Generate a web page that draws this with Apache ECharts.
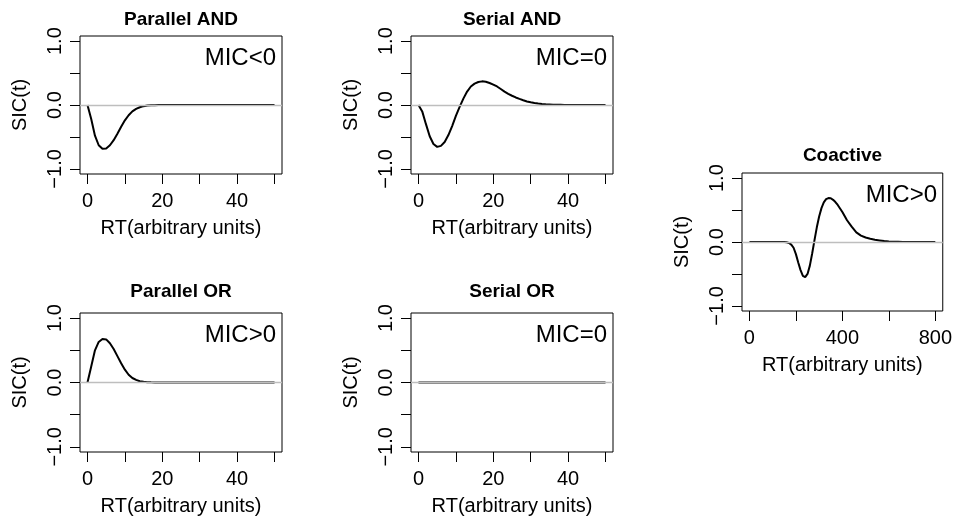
<!DOCTYPE html>
<html>
<head>
<meta charset="utf-8">
<script src="https://cdn.jsdelivr.net/npm/echarts@6/dist/echarts.min.js"></script>
<style>html,body{margin:0;padding:0;background:#fff}#main{width:955px;height:522px}</style>
</head>
<body>
<div id="main"></div>
<script>
var chartDom = document.getElementById('main');
var myChart = echarts.init(chartDom);
var option;

// RT (arbitrary units) for the four 0-50 panels
var rt = [0, 1, 2, 3, 4, 5, 6, 7, 8, 9, 10, 11, 12, 13, 14, 15, 16, 17, 18, 19, 20,
  21, 22, 23, 24, 25, 26, 27, 28, 29, 30, 31, 32, 33, 34, 35, 36, 37, 38, 39, 40,
  41, 42, 43, 44, 45, 46, 47, 48, 49, 50];

var parallelAnd = [0, -0.22, -0.48, -0.63, -0.685, -0.68, -0.63, -0.55, -0.45, -0.34, -0.24,
  -0.16, -0.10, -0.06, -0.035, -0.018, -0.009, -0.004, -0.002, -0.001, 0,
  0, 0, 0, 0, 0, 0, 0, 0, 0, 0, 0, 0, 0, 0, 0, 0, 0, 0, 0, 0,
  0, 0, 0, 0, 0, 0, 0, 0, 0, 0];

var serialAnd = [0, -0.10, -0.30, -0.49, -0.61, -0.655, -0.64, -0.58, -0.47, -0.33, -0.17,
  -0.03, 0.10, 0.21, 0.29, 0.335, 0.36, 0.37, 0.365, 0.345, 0.32,
  0.29, 0.25, 0.21, 0.175, 0.145, 0.118, 0.095, 0.074, 0.056, 0.042,
  0.031, 0.023, 0.016, 0.011, 0.008, 0.005, 0.003, 0.002, 0.001, 0,
  0, 0, 0, 0, 0, 0, 0, 0, 0, 0];

var parallelOr = [0, 0.25, 0.50, 0.63, 0.675, 0.67, 0.61, 0.52, 0.41, 0.30, 0.20,
  0.12, 0.07, 0.04, 0.02, 0.01, 0.005, 0.002, 0.001, 0, 0,
  0, 0, 0, 0, 0, 0, 0, 0, 0, 0, 0, 0, 0, 0, 0, 0, 0, 0, 0, 0,
  0, 0, 0, 0, 0, 0, 0, 0, 0, 0];

var serialOr = [0, 0, 0, 0, 0, 0, 0, 0, 0, 0, 0,
  0, 0, 0, 0, 0, 0, 0, 0, 0, 0,
  0, 0, 0, 0, 0, 0, 0, 0, 0, 0, 0, 0, 0, 0, 0, 0, 0, 0, 0, 0,
  0, 0, 0, 0, 0, 0, 0, 0, 0, 0];

// coactive panel, RT 0-800
var coactiveRt = [0, 20, 40, 60, 80, 100, 120, 140,
  150, 160, 170, 180, 190, 200, 210, 220, 230, 240, 250, 260, 270, 280, 290, 300,
  310, 320, 330, 340, 350, 360, 370, 380, 390, 400,
  420, 440, 460, 480, 500, 520, 540, 560, 580, 600, 620, 640, 660,
  700, 750, 800];
var coactive = [0, 0, 0, 0, 0, 0, 0, 0,
  0, -0.005, -0.015, -0.04, -0.09, -0.19, -0.32, -0.44, -0.53, -0.55, -0.50, -0.37, -0.18, 0.03, 0.23, 0.40,
  0.53, 0.62, 0.67, 0.687, 0.685, 0.66, 0.625, 0.58, 0.525, 0.47,
  0.34, 0.24, 0.15, 0.10, 0.07, 0.05, 0.035, 0.025, 0.015, 0.008, 0.004, 0.002, 0,
  0, 0, 0];

var panelTitles = ['Parallel AND', 'Serial AND', 'Coactive', 'Parallel OR', 'Serial OR'];
var micLabels = ['MIC<0', 'MIC=0', 'MIC>0', 'MIC>0', 'MIC=0'];
var sicTicks = [-1, -0.5, 0, 0.5, 1];
var sicLabels = [-1, 0, 1];
var rtTicks = [0, 10, 20, 30, 40, 50];
var rtLabels = [0, 20, 40];
var coTicks = [0, 200, 400, 600, 800];
var coLabels = [0, 400, 800];

var font = 'Liberation Sans';

// panel boxes (px)
var boxes = [
  {left: 80, top: 36, width: 202, height: 138, titleY: 19.5, xmin: -2, xmax: 52},
  {left: 411, top: 36, width: 202, height: 138, titleY: 19.5, xmin: -2, xmax: 52},
  {left: 742, top: 173, width: 201, height: 138, titleY: 156, xmin: -32, xmax: 832},
  {left: 80, top: 313, width: 202, height: 139, titleY: 292, xmin: -2, xmax: 52},
  {left: 411, top: 313, width: 202, height: 139, titleY: 292, xmin: -2, xmax: 52}
];
var xs = [rt, rt, coactiveRt, rt, rt];
var ys = [parallelAnd, serialAnd, coactive, parallelOr, serialOr];

var grids = [], xAxes = [], yAxes = [], series = [], graphics = [];

boxes.forEach(function (b, i) {
  var co = i === 2;
  grids.push({
    left: b.left, top: b.top, width: b.width, height: b.height,
    show: true, borderColor: '#000', borderWidth: 1, backgroundColor: 'transparent'
  });
  xAxes.push({
    type: 'value', gridIndex: i, min: b.xmin, max: b.xmax, position: 'bottom',
    name: 'RT(arbitrary units)', nameLocation: 'middle', nameGap: 44,
    nameTextStyle: {fontFamily: font, fontSize: 20, color: '#000'},
    axisLine: {show: false, onZero: false},
    splitLine: {show: false},
    axisTick: {show: true, inside: false, length: 10, lineStyle: {color: '#000', width: 1},
      customValues: co ? coTicks : rtTicks},
    axisLabel: {fontFamily: font, fontSize: 20, color: '#000', margin: 17,
      customValues: co ? coLabels : rtLabels}
  });
  yAxes.push({
    type: 'value', gridIndex: i, min: -1.08, max: 1.08, position: 'left',
    name: 'SIC(t)', nameLocation: 'middle', nameGap: 50, nameRotate: 90,
    nameTextStyle: {fontFamily: font, fontSize: 20, color: '#000'},
    axisLine: {show: false, onZero: false},
    splitLine: {show: false},
    axisTick: {show: true, inside: false, length: 10, lineStyle: {color: '#000', width: 1},
      customValues: sicTicks},
    axisLabel: {fontFamily: font, fontSize: 20, color: '#000', margin: 15, rotate: 90,
      customValues: sicLabels,
      formatter: function (v) { return (v < 0 ? '\u2212' : '') + Math.abs(v).toFixed(1); }}
  });
  series.push({
    type: 'line', xAxisIndex: i, yAxisIndex: i, z: 2,
    data: xs[i].map(function (x, k) { return [x, ys[i][k]]; }),
    showSymbol: false, symbol: 'none',
    lineStyle: {color: '#000', width: 2},
    // grey zero line drawn over the curve
    markLine: {
      silent: true, z: 10, symbol: ['none', 'none'], label: {show: false},
      lineStyle: {color: '#bebebe', width: 1.4, type: 'solid'},
      data: [{yAxis: 0}]
    }
  });
  graphics.push({
    type: 'text', x: b.left + b.width / 2, y: b.titleY,
    style: {text: panelTitles[i], fontFamily: font, fontSize: 19, fontWeight: 'bold',
      fill: '#000', align: 'center', verticalAlign: 'middle'}
  });
  graphics.push({
    type: 'text', x: b.left + b.width - 6, y: b.top + 22,
    style: {text: micLabels[i], fontFamily: font, fontSize: 24,
      fill: '#000', align: 'right', verticalAlign: 'middle'}
  });
});

option = {
  animation: false,
  backgroundColor: '#fff',
  grid: grids,
  xAxis: xAxes,
  yAxis: yAxes,
  series: series,
  graphic: graphics
};

option && myChart.setOption(option);
</script>
</body>
</html>
